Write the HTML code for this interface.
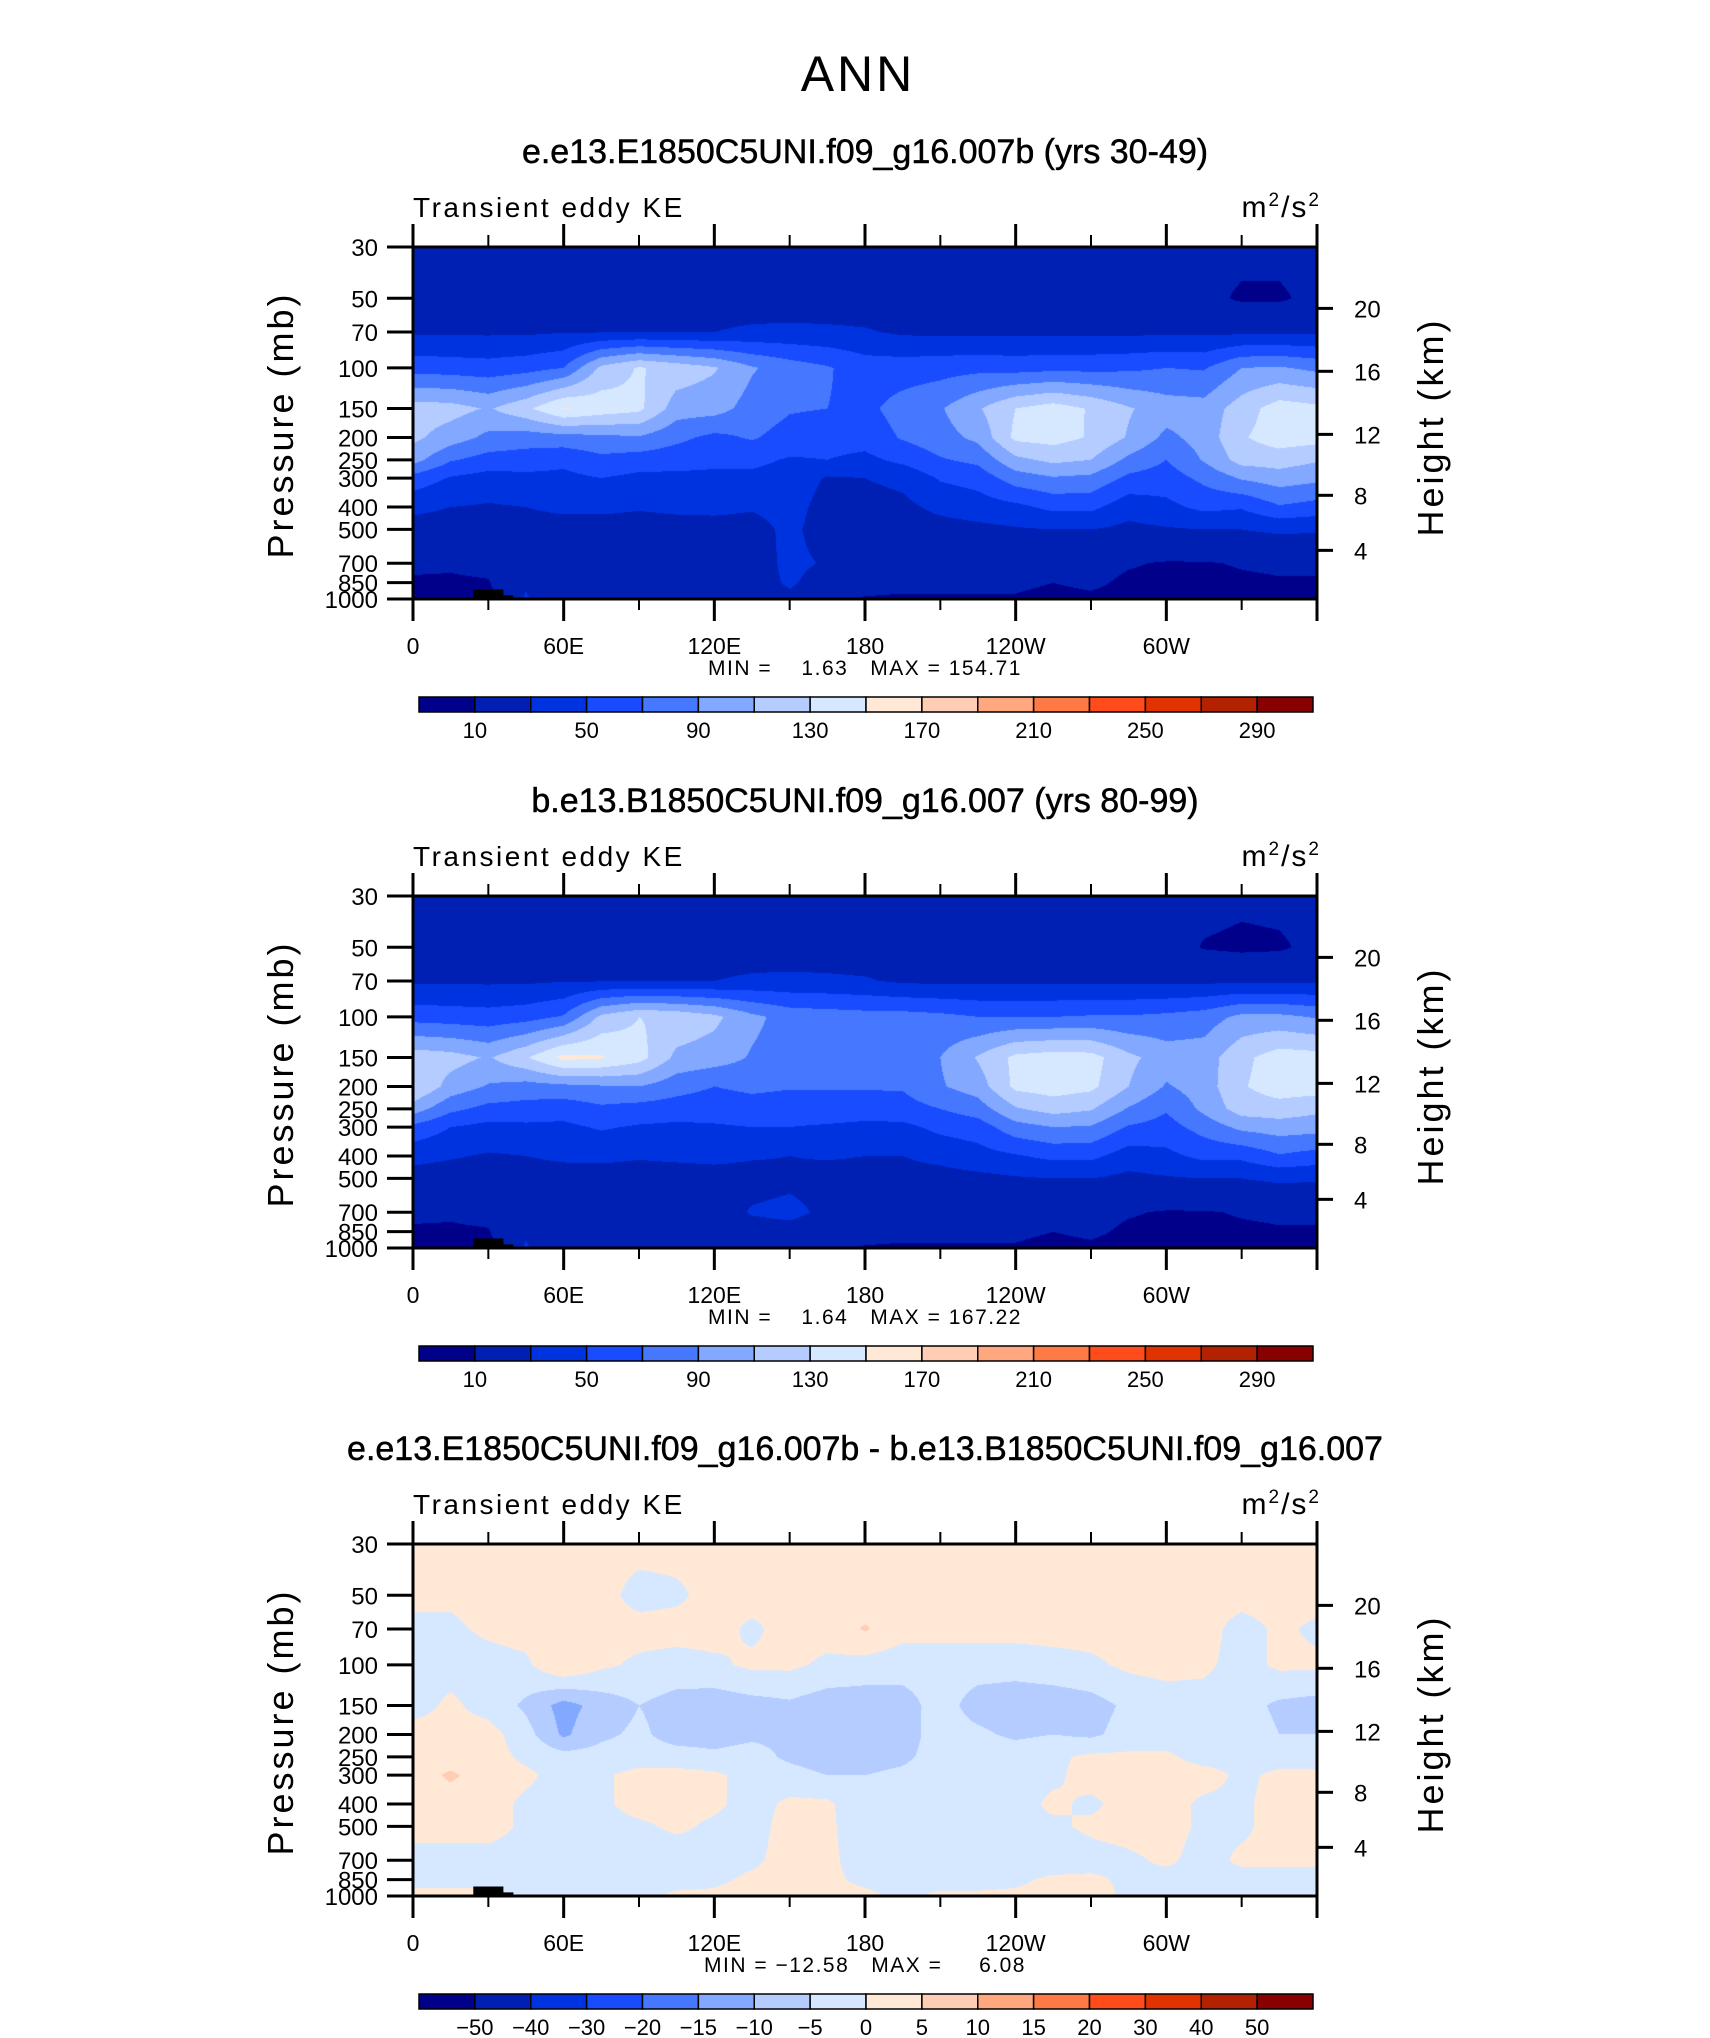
<!DOCTYPE html>
<html><head><meta charset="utf-8"><title>ANN Transient eddy KE</title>
<style>
html,body{margin:0;padding:0;background:#fff;}
#wrap{position:relative;width:1710px;height:2038px;overflow:hidden;background:#fff;}
canvas{position:absolute;}
svg{position:absolute;left:0;top:0;}
text{font-family:"Liberation Sans",Arial,sans-serif;fill:#000;}
</style></head>
<body>
<div id="wrap">
<svg id="svg" width="1710" height="2038" xmlns="http://www.w3.org/2000/svg"></svg>
</div>
<script>
const lons = [0,15,30,45,60,75,90,105,120,135,150,165,180,195,210,225,240,255,270,285,300,315,330,345,360];
const levels = [30,50,70,100,150,200,250,300,400,500,700,850,1000];
const kmTicks = [4,8,12,16,20];
const kmPressure = [616,356,194,103.5,55.3];
const xTickLons = [0,60,120,180,240,300];
const xTickLabels = ['0','60E','120E','180','120W','60W'];
const palette = ['#00008a','#0020b4','#0033e0','#1a4cff','#4578ff','#82a8ff','#b4ccff','#d6e8ff','#ffe8d6','#ffccb4','#ffa880','#ff7a45','#ff4c1a','#e03300','#b32200','#880000'];
const contourLevelsKE = [10,30,50,70,90,110,130,150,170,190,210,230,250,270,290];
const contourLevelsDiff = [-50,-40,-30,-20,-15,-10,-5,0,5,10,15,20,30,40,50];
const colorbarLabelsKE = ['10','50','90','130','170','210','250','290'];
const colorbarLabelsDiff = ['\u221250','\u221240','\u221230','\u221220','\u221215','\u221210','\u22125','0','5','10','15','20','30','40','50'];
const panelTitles = ['e.e13.E1850C5UNI.f09_g16.007b (yrs 30-49)','b.e13.B1850C5UNI.f09_g16.007 (yrs 80-99)','e.e13.E1850C5UNI.f09_g16.007b - b.e13.B1850C5UNI.f09_g16.007'];
const panelMinMax = ['MIN =    1.63   MAX = 154.71','MIN =    1.64   MAX = 167.22','MIN = \u221212.58   MAX =     6.08'];
const terrainLon = [12,12,24,24,36,36,40,40];
const terrainP = [1000,985,985,910,910,965,965,1000];

const panel1Values = [
[15,15,15,15,15,15,15,15,15,15,15,15,15,15,15,15,15,15,15,15,15,15,14,14,15],
[17,17,17,17,17,17,17,17,17,17,17,17,17,17,17,17,17,17,17,17,17,14,8,8,14],
[27,27,27,27,29,29,29,29,30,34,35,34,32,27,26,26,26,26,26,26,26,26,26,26,26],
[62,60,58,62,70,115,132,122,112,92,80,72,60,60,62,64,62,64,64,66,70,68,90,92,85],
[120,118,108,125,152,142,135,100,98,82,72,70,65,78,88,108,130,140,128,112,100,98,120,140,135],
[115,100,85,80,82,85,88,75,65,72,62,58,58,72,82,95,135,138,128,108,85,98,128,140,138],
[98,72,62,60,55,65,60,58,55,55,48,50,45,55,68,75,105,115,110,85,70,92,118,120,112],
[62,48,42,45,45,50,45,45,45,45,42,28,30,35,52,58,80,88,85,65,60,75,92,100,95],
[35,30,28,30,35,35,32,35,35,32,38,22,22,25,35,40,45,55,55,38,45,55,52,68,62],
[22,20,20,20,20,20,20,20,22,22,35,20,20,20,22,25,28,30,30,25,28,30,30,33,32],
[13,12,14,15,15,15,15,15,16,20,35,28,18,16,15,15,15,12,14,11,9,9,11,12,12],
[8,8,9,28,15,15,15,15,16,20,33,20,15,14,14,14,12,10,12,8,7,7,8,9,9],
[5,5,5,32,12,12,12,10,10,18,25,15,9,8,8,8,9,7,8,6,5,5,6,7,7]
];
const panel2Values = [
[15,15,15,15,15,15,15,15,15,15,15,15,15,15,15,15,15,15,15,15,15,15,13,14,15],
[17,17,17,17,17,17,17,17,17,17,17,17,17,17,17,17,17,17,17,17,17,9,7,8,14],
[27,27,27,27,29,29,29,29,30,34,35,34,32,27,26,26,26,26,26,26,26,26,26,26,26],
[62,60,58,62,72,115,130,125,115,95,82,80,78,78,75,70,70,70,72,72,75,80,95,95,88],
[122,118,108,128,156,152,138,105,100,88,80,78,78,80,90,112,135,140,138,115,100,100,125,140,138],
[132,102,88,82,85,88,90,78,70,75,72,72,72,72,88,100,135,140,135,110,88,100,128,140,140],
[100,75,64,62,58,66,62,60,58,60,58,60,60,62,70,80,108,118,112,88,72,95,120,122,115],
[65,50,44,46,46,52,48,46,48,50,50,48,45,45,55,60,82,90,88,68,62,78,95,100,98],
[36,32,28,30,34,35,32,34,35,32,30,32,30,30,36,42,48,55,55,40,45,55,55,68,62],
[22,20,20,20,20,20,20,20,22,22,25,22,22,22,22,25,28,30,30,25,28,30,30,33,32],
[13,12,14,15,15,15,15,15,18,32,36,25,16,15,15,15,15,14,14,11,9,9,11,12,12],
[8,8,9,28,15,15,15,15,16,20,22,18,15,14,14,14,12,10,12,8,7,7,8,9,9],
[5,5,5,32,12,12,12,10,10,14,14,12,9,8,8,8,9,7,8,6,5,5,6,7,7]
];
const panel3Values = [
[2,2,2,2,2,2,2,2,2,2,2,2,2,2,2,2,2,2,2,2,2,2,2,2,2],
[1,1,2,2,2,2,-2,-1,2,2,2,2,2,2,2,2,2,2,2,2,2,2,2,2,2],
[-1,-1,1,2,2,2,2,2,2,-1,2,2,5.5,2,2,2,2,2,2,2,2,2,-2,1,-1],
[-1,-2,-2,-1,5,1,-1,-2,-1,1,1,-1,-2,-3,-3,-3,-3,-2,-1,1,2,1,-2,1,1],
[-2,1,-2,-6,-12,-8,-5,-7,-8,-7,-6,-8,-8,-7,-3,-7,-8,-8,-7,-4,-3,-2,-3,-6,-7],
[2,2,2,-3,-11,-6,-4,-7,-7,-6,-6,-8,-8,-7,-3,-4,-6,-5,-6,-3,-3,-3,-2,-5,-5],
[2,2,2,-1,-3,-3,-3,-3,-4,-3,-6,-8,-7,-6,-3,-2,-2,-1,1,1,1,-2,-2,-2,-2],
[2,6,2,1,-2,-1,2,2,1,-2,-3,-5,-5,-4,-2,-2,-2,-1,2,1,2,2,-1,1,1],
[2,2,2,-1,-2,-1,2,2,1,-2,1,1,-4,-4,-2,-2,-2,1,-1,2,2,-1,-1,2,2],
[2,2,2,-1,-2,-2,-1,1,-1,-2,2,1,-3,-4,-2,-2,-1,-1,1,2,2,-1,-1,2,1],
[-2,-2,-2,-2,-3,-3,-3,-3,-2,-1,2,1,-2,-3,-3,-3,-3,-3,-2,-1,1,-2,1,1,1],
[-1,-1,-1,-2,-3,-3,-3,-2,-1,1,2,1,-1,-2,-2,-2,-1,1,1,-1,-2,-2,-2,-2,-2],
[1,1,1,-1,-2,-2,-1,1,1,2,2,2,1,-1,1,1,1,2,2,-1,-2,-2,-2,-2,-2]
];

const plotL = 413, plotW = 904, plotH = 352;
const panelTops = [247, 896, 1544];
const NS = 'http://www.w3.org/2000/svg';
const svg = document.getElementById('svg');
const wrap = document.getElementById('wrap');
const lnRange = Math.log(1000/30);
function xScale(lon){ return plotL + lon/360*plotW; }
function yFrac(p){ return Math.log(p/30)/lnRange; }
function yScale(p, top){ return top + yFrac(p)*plotH; }
function mk(tag, attrs, parent){
  const e = document.createElementNS(NS, tag);
  for (const k in attrs) e.setAttribute(k, attrs[k]);
  (parent||svg).appendChild(e);
  return e;
}
function hexToRgb(h){ return [parseInt(h.substr(1,2),16),parseInt(h.substr(3,2),16),parseInt(h.substr(5,2),16)]; }
const levelFracs = levels.map(yFrac);

function drawField(values, lv, top, idx){
  const cv = document.createElement('canvas');
  cv.width = plotW; cv.height = plotH;
  cv.style.left = plotL + 'px'; cv.style.top = top + 'px';
  
  
  wrap.insertBefore(cv, svg);
  const ctx = cv.getContext('2d');
  const img = ctx.createImageData(plotW, plotH);
  const rgbs = palette.map(hexToRgb);
  for (let py = 0; py < plotH; py++){
    const f = (py + 0.5)/plotH;
    let r = 0;
    while (r < levelFracs.length - 2 && f > levelFracs[r+1]) r++;
    const ty = Math.min(1, Math.max(0, (f - levelFracs[r])/(levelFracs[r+1]-levelFracs[r])));
    for (let px = 0; px < plotW; px++){
      const lon = (px + 0.5)/plotW*360;
      let c = Math.min(lons.length - 2, Math.floor(lon/15));
      const tx = (lon - lons[c])/(lons[c+1]-lons[c]);
      const v = (values[r][c]*(1-tx) + values[r][c+1]*tx)*(1-ty) + (values[r+1][c]*(1-tx) + values[r+1][c+1]*tx)*ty;
      let i = 0;
      while (i < lv.length && v >= lv[i]) i++;
      const rgb = rgbs[i];
      const o = (py*plotW + px)*4;
      img.data[o]=rgb[0]; img.data[o+1]=rgb[1]; img.data[o+2]=rgb[2]; img.data[o+3]=255;
    }
  }
  ctx.putImageData(img, 0, 0);
}

function txt(s, x, y, size, anchor, parent){
  const t = mk('text', {x:x, y:y, 'font-size':size, 'text-anchor':anchor||'start'}, parent);
  t.textContent = s;
  return t;
}

const ann = txt('ANN', 858, 91, 50, 'middle');


ann.setAttribute('letter-spacing', '3');

const valueSets = [panel1Values, panel2Values, panel3Values];
const levelSets = [contourLevelsKE, contourLevelsKE, contourLevelsDiff];

panelTops.forEach(function(top, idx){
  drawField(valueSets[idx], levelSets[idx], top, idx);
  const g = mk('g', {});
  
  

  let pts = terrainLon.map(function(l, i){ return xScale(l).toFixed(1) + ',' + yScale(terrainP[i], top).toFixed(1); }).join(' ');
  const ter = mk('polygon', {points: pts, fill:'#000'}, g);
  
  

  const title = txt(panelTitles[idx], plotL + plotW/2, top - 84, 34, 'middle', g);
  
  
  title.setAttribute('stroke', '#000');
  title.setAttribute('stroke-width', '0.5');

  const sub = txt('Transient eddy KE', plotL, top - 30, 28, 'start', g);
  
  
  sub.setAttribute('letter-spacing', '2.5');

  const units = mk('text', {x: plotL + plotW + 4, y: top - 30, 'font-size': 30, 'text-anchor':'end', 'letter-spacing': 2}, g);
  
  
  units.innerHTML = 'm<tspan dy="-11" font-size="19">2</tspan><tspan dy="11">/s</tspan><tspan dy="-11" font-size="19">2</tspan>';

  const fr = mk('rect', {x: plotL, y: top, width: plotW, height: plotH, fill:'none', stroke:'#000', 'stroke-width':3}, g);
  
  

  for (let lon = 0; lon <= 360; lon += 30){
    const major = lon % 60 === 0;
    const x = xScale(lon);
    const tt = mk('line', {x1:x, x2:x, y1: top, y2: top - (major?23:12), stroke:'#000', 'stroke-width': major?3:2}, g);
    
    
    const tb = mk('line', {x1:x, x2:x, y1: top+plotH, y2: top+plotH + (major?22:11), stroke:'#000', 'stroke-width': major?3:2}, g);
    
    
  }
  xTickLons.forEach(function(lon, i){
    const l = txt(xTickLabels[i], xScale(lon), top + plotH + 55, 23, 'middle', g);
    
    
  });

  levels.forEach(function(p){
    const y = yScale(p, top);
    const t = mk('line', {x1: plotL, x2: plotL - 26, y1: y, y2: y, stroke:'#000', 'stroke-width':3}, g);
    
    
    const l = txt(String(p), 378, y + 9, 24, 'end', g);
    
    
  });
  const yl = txt('Pressure (mb)', 0, 0, 36, 'middle', g);
  yl.setAttribute('transform', 'translate(293,' + (top + 178) + ') rotate(-90)');
  yl.setAttribute('letter-spacing', '3');
  
  

  kmTicks.forEach(function(km, i){
    const y = yScale(kmPressure[i], top);
    const t = mk('line', {x1: plotL + plotW, x2: plotL + plotW + 16, y1: y, y2: y, stroke:'#000', 'stroke-width':3}, g);
    
    
    const l = txt(String(km), 1354, y + 9, 24, 'start', g);
    
    
  });
  const yr = txt('Height (km)', 0, 0, 36, 'middle', g);
  yr.setAttribute('transform', 'translate(1443,' + (top + 180) + ') rotate(-90)');
  yr.setAttribute('letter-spacing', '3');
  
  

  const mm = mk('text', {x: plotL + plotW/2, y: top + plotH + 76, 'font-size': 21, 'text-anchor':'middle', 'letter-spacing': 1.5}, g);
  mm.setAttribute('xml:space', 'preserve');
  mm.style.whiteSpace = 'pre';
  mm.textContent = panelMinMax[idx];
  
  

  const cbL = 419, cbW = 894, cbT = top + 450, cbH = 15;
  const bw = cbW / palette.length;
  palette.forEach(function(col, i){
    const b = mk('rect', {x: cbL + i*bw, y: cbT, width: bw, height: cbH, fill: col, stroke:'#000', 'stroke-width':1.5}, g);
    
    
  });
  const lab = idx < 2 ? colorbarLabelsKE : colorbarLabelsDiff;
  const step = idx < 2 ? 2 : 1;
  lab.forEach(function(s, i){
    const x = cbL + (1 + i*step)*bw;
    const l = txt(s, x, cbT + cbH + 26, 22, 'middle', g);
    
    
  });
});
</script>
</body></html>
